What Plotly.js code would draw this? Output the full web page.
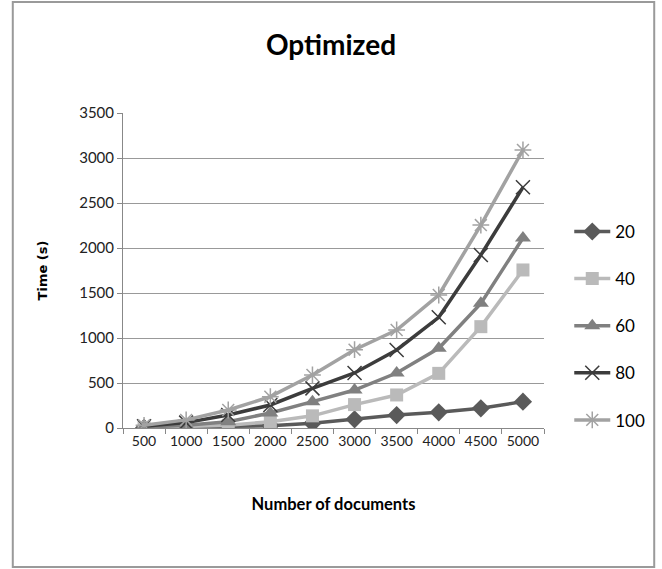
<!DOCTYPE html>
<html>
<head>
<meta charset="utf-8">
<script src="https://cdn.plot.ly/plotly-3.0.1.min.js"></script>
<style>html,body{margin:0;padding:0;background:#fff;}#chart{width:662px;height:569px;}</style>
</head>
<body>
<div id="chart"></div>
<script>
var categories = ["500","1000","1500","2000","2500","3000","3500","4000","4500","5000"];
var seriesNames = ["20","40","60","80","100"];
var s20  = [3, 8, 15, 26, 52, 96, 144, 174, 219, 293];
var s40  = [5, 15, 30, 70, 135, 260, 367, 607, 1126, 1756];
var s60  = [10, 30, 70, 167, 293, 422, 611, 886, 1385, 2111];
var s80  = [20, 60, 144, 256, 440, 611, 867, 1230, 1922, 2674];
var s100 = [30, 90, 200, 348, 589, 870, 1089, 1478, 2255, 3089];
var seriesValues = [s20, s40, s60, s80, s100];
var colors = ["#5a5a5a", "#bababa", "#808080", "#3c3c3c", "#a2a2a2"];
var symbols = ["diamond", "square", "triangle-up", "x-thin-open", "asterisk-open"];
var sizes = [14, 13, 14, 14, 14];

var traces = seriesNames.map(function(n, i){
  return {
    type: "scatter", mode: "lines+markers", name: n,
    x: categories, y: seriesValues[i],
    legendgroup: "g" + i,
    line: {color: colors[i], width: 3.5},
    marker: {symbol: symbols[i], size: sizes[i], color: colors[i],
             line: {color: colors[i], width: (i >= 3 ? 1.5 : 0)}}
  };
});

var font = "Lato, 'Open Sans', sans-serif";
var layout = {
  width: 662, height: 569,
  margin: {l: 123, r: 115, t: 113, b: 141},
  paper_bgcolor: "#ffffff", plot_bgcolor: "#ffffff",
  font: {family: font, color: "#000"},
  title: {text: "<b>Optimized</b>", x: 0.5, xref: "container", y: 0.92, yref: "container",
          yanchor: "middle", font: {family: font, size: 28, color: "#000"}},
  xaxis: {
    type: "category", tickson: "boundaries", ticks: "outside", ticklen: 5, tickcolor: "#888",
    showline: true, linecolor: "#888", linewidth: 1, showgrid: false, zeroline: false,
    tickangle: 0,
    range: [-0.5, 9.5], tickfont: {family: font, size: 14, color: "#222"},
    title: {text: "<b>Number of documents</b>", font: {family: font, size: 16.5, color: "#000"}, standoff: 50}
  },
  yaxis: {
    range: [0, 3500], dtick: 500, ticks: "outside", ticklen: 5, tickcolor: "#888",
    showline: true, linecolor: "#888", linewidth: 1, gridcolor: "#999", gridwidth: 1,
    zeroline: false, tickfont: {family: font, size: 15, color: "#222"},
    title: {text: "<b>Time (s)</b>", font: {family: "'DejaVu Sans', sans-serif", size: 13, color: "#000"}, standoff: 28}
  },
  legend: {x: 1.06, xanchor: "left", y: 0.324, yanchor: "middle", tracegroupgap: 22,
           font: {family: font, size: 17, color: "#000"}, itemwidth: 36, bgcolor: "rgba(0,0,0,0)"},
  showlegend: true,
  shapes: [{type: "rect", xref: "paper", yref: "paper", x0: -0.2618, x1: 1.2618, y0: -0.4413, y1: 1.3524,
            line: {color: "#9a9a9a", width: 2}, fillcolor: "rgba(0,0,0,0)", layer: "below"}]
};
Plotly.newPlot("chart", traces, layout, {displayModeBar: false, staticPlot: true});
</script>
</body>
</html>
